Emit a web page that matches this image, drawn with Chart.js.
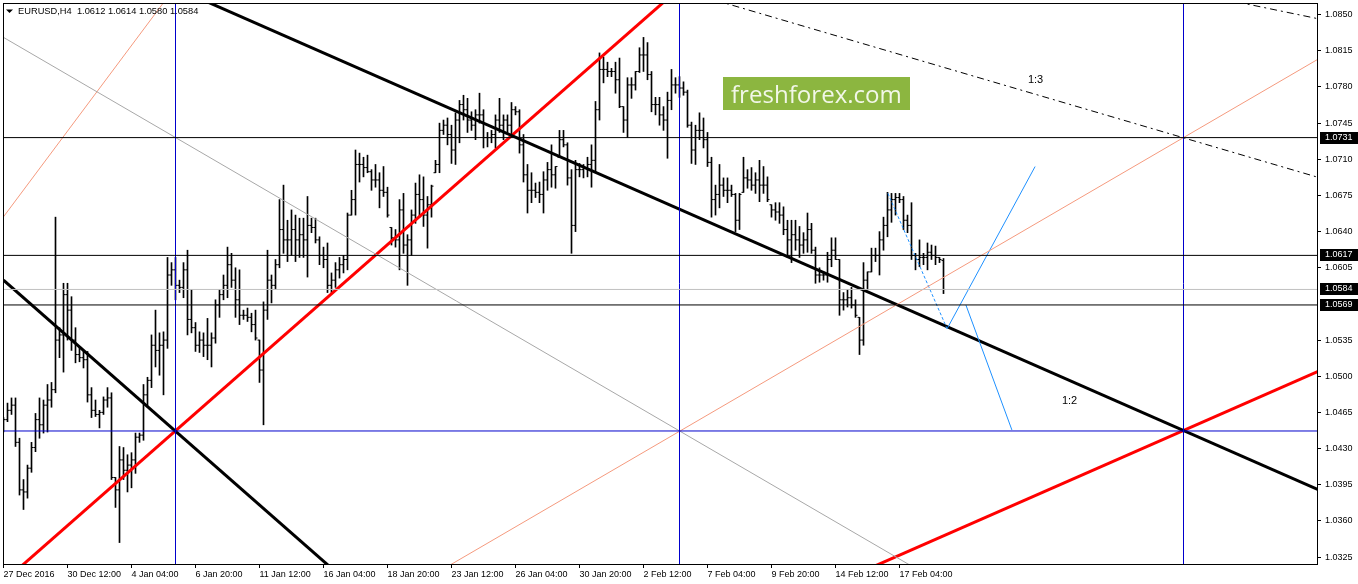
<!DOCTYPE html>
<html><head><meta charset="utf-8">
<script src="https://cdn.jsdelivr.net/npm/chart.js@4.4.1/dist/chart.umd.min.js"></script>
<style>html,body{margin:0;padding:0;background:#fff;overflow:hidden}</style>
</head><body>
<canvas id="c" width="1358" height="584"></canvas>
<script>
// ---------- DATA ----------
const xTickLabels = ["27 Dec 2016","30 Dec 12:00","4 Jan 04:00","6 Jan 20:00","11 Jan 12:00","16 Jan 04:00","18 Jan 20:00","23 Jan 12:00","26 Jan 04:00","30 Jan 20:00","2 Feb 12:00","7 Feb 04:00","9 Feb 20:00","14 Feb 12:00","17 Feb 04:00"];
const yTickValues = [1.0325,1.0360,1.0395,1.0430,1.0465,1.0500,1.0535,1.0605,1.0640,1.0675,1.0710,1.0745,1.0780,1.0815,1.0850];

const opens = [1.0453,1.0458,1.0467,1.0472,1.0436,1.0390,1.0388,1.0411,1.0431,1.0458,1.0453,1.0472,1.0477,1.0487,1.0535,1.0540,1.0579,1.0564,1.0535,1.0521,1.0518,1.0516,1.0482,1.0467,1.0463,1.0465,1.0477,1.0479,1.0402,1.0390,
1.0419,1.0409,1.0414,1.0419,1.0441,1.0443,1.0482,1.0496,1.0530,1.0525,1.0530,1.0535,1.0598,1.0603,1.0588,1.0586,1.0603,1.0555,1.0547,1.0530,1.0535,1.0530,1.0530,1.0537,1.0569,1.0579,1.0588,1.0608,1.0593,1.0574,
1.0559,1.0559,1.0557,1.0550,1.0535,1.0506,1.0564,1.0593,1.0588,1.0608,1.0642,1.0632,1.0632,1.0642,1.0632,1.0637,1.0632,1.0646,1.0644,1.0632,1.0617,1.0613,1.0588,1.0593,1.0603,1.0608,1.0613,1.0656,1.0671,1.0705,
1.0705,1.0702,1.0698,1.0690,1.0690,1.0680,1.0678,1.0644,1.0634,1.0632,1.0661,1.0627,1.0632,1.0656,1.0676,1.0671,1.0656,1.0666,1.0697,1.0705,1.0738,1.0743,1.0734,1.0719,1.0748,1.0763,1.0758,1.0748,1.0743,1.0753,
1.0753,1.0731,1.0731,1.0734,1.0748,1.0743,1.0748,1.0743,1.0758,1.0756,1.0724,1.0695,1.0680,1.0680,1.0678,1.0676,1.0690,1.0700,1.0695,1.0712,1.0729,1.0724,1.0692,1.0646,1.0700,1.0700,1.0702,1.0705,1.0709,1.0758,
1.0797,1.0797,1.0795,1.0795,1.0787,1.0761,1.0748,1.0782,1.0782,1.0795,1.0811,1.0811,1.0792,1.0763,1.0763,1.0753,1.0748,1.0767,1.0782,1.0782,1.0779,1.0775,1.0743,1.0719,1.0738,1.0738,1.0729,1.0707,1.0671,1.0676,
1.0685,1.0680,1.0680,1.0676,1.0651,1.0678,1.0692,1.0690,1.0685,1.0690,1.0685,1.0685,1.0666,1.0661,1.0659,1.0656,1.0642,1.0632,1.0637,1.0632,1.0627,1.0632,1.0642,1.0622,1.0598,1.0598,1.0598,1.0613,1.0622,1.0613,
1.0574,1.0574,1.0576,1.0569,1.0557,1.0535,1.0593,1.0601,1.0617,1.0617,1.0632,1.0646,1.0661,1.0671,1.0673,1.0671,1.0651,1.0646,1.0617,1.0613,1.0615,1.0615,1.0620,1.0617,1.0615,1.0612];
const highs = [1.0460,1.0474,1.0479,1.0479,1.0440,1.0400,1.0414,1.0436,1.0464,1.0479,1.0477,1.0492,1.0494,1.0654,1.0547,1.0590,1.0590,1.0577,1.0547,1.0528,1.0524,1.0524,1.0489,1.0477,1.0467,1.0480,1.0489,1.0484,1.0402,1.0432,
1.0431,1.0424,1.0426,1.0445,1.0445,1.0492,1.0499,1.0540,1.0564,1.0542,1.0543,1.0615,1.0610,1.0615,1.0593,1.0610,1.0622,1.0584,1.0552,1.0543,1.0542,1.0556,1.0542,1.0574,1.0584,1.0598,1.0625,1.0619,1.0605,1.0603,
1.0564,1.0566,1.0561,1.0564,1.0535,1.0572,1.0622,1.0598,1.0613,1.0671,1.0685,1.0651,1.0661,1.0656,1.0653,1.0653,1.0674,1.0653,1.0653,1.0635,1.0625,1.0629,1.0600,1.0610,1.0615,1.0617,1.0658,1.0680,1.0719,1.0716,
1.0712,1.0714,1.0700,1.0705,1.0697,1.0703,1.0683,1.0644,1.0642,1.0671,1.0677,1.0637,1.0661,1.0687,1.0695,1.0693,1.0674,1.0685,1.0709,1.0745,1.0748,1.0750,1.0743,1.0755,1.0767,1.0772,1.0769,1.0756,1.0758,1.0774,
1.0758,1.0736,1.0738,1.0753,1.0769,1.0753,1.0753,1.0765,1.0761,1.0758,1.0734,1.0705,1.0697,1.0687,1.0688,1.0698,1.0707,1.0724,1.0703,1.0738,1.0738,1.0726,1.0700,1.0709,1.0706,1.0705,1.0712,1.0724,1.0766,1.0813,
1.0809,1.0804,1.0798,1.0804,1.0808,1.0761,1.0789,1.0789,1.0795,1.0818,1.0828,1.0823,1.0795,1.0770,1.0770,1.0761,1.0775,1.0797,1.0789,1.0790,1.0785,1.0777,1.0746,1.0743,1.0755,1.0750,1.0736,1.0712,1.0685,1.0705,
1.0692,1.0692,1.0685,1.0677,1.0677,1.0712,1.0700,1.0702,1.0697,1.0709,1.0703,1.0693,1.0666,1.0668,1.0668,1.0664,1.0651,1.0651,1.0651,1.0645,1.0639,1.0658,1.0648,1.0625,1.0605,1.0601,1.0620,1.0634,1.0634,1.0613,
1.0581,1.0584,1.0586,1.0574,1.0557,1.0610,1.0601,1.0624,1.0624,1.0640,1.0654,1.0678,1.0677,1.0677,1.0677,1.0674,1.0656,1.0668,1.0619,1.0632,1.0619,1.0629,1.0627,1.0626,1.0615,1.0614];
const lows = [1.0446,1.0456,1.0463,1.0432,1.0385,1.0371,1.0382,1.0407,1.0427,1.0440,1.0445,1.0446,1.0470,1.0484,1.0518,1.0504,1.0535,1.0525,1.0513,1.0514,1.0508,1.0475,1.0460,1.0461,1.0450,1.0463,1.0470,1.0400,1.0373,1.0339,
1.0400,1.0388,1.0392,1.0406,1.0436,1.0438,1.0470,1.0489,1.0509,1.0501,1.0482,1.0527,1.0588,1.0574,1.0581,1.0576,1.0540,1.0542,1.0524,1.0523,1.0519,1.0516,1.0509,1.0532,1.0557,1.0574,1.0576,1.0586,1.0557,1.0550,
1.0555,1.0553,1.0543,1.0535,1.0494,1.0453,1.0555,1.0571,1.0584,1.0605,1.0619,1.0611,1.0617,1.0611,1.0615,1.0615,1.0596,1.0639,1.0629,1.0608,1.0605,1.0581,1.0581,1.0586,1.0595,1.0600,1.0603,1.0656,1.0656,1.0688,
1.0693,1.0697,1.0680,1.0683,1.0663,1.0674,1.0654,1.0627,1.0625,1.0603,1.0619,1.0588,1.0617,1.0648,1.0654,1.0645,1.0624,1.0654,1.0697,1.0697,1.0734,1.0724,1.0706,1.0705,1.0726,1.0748,1.0736,1.0738,1.0729,1.0745,
1.0721,1.0722,1.0726,1.0721,1.0736,1.0729,1.0736,1.0732,1.0753,1.0716,1.0688,1.0658,1.0668,1.0673,1.0668,1.0658,1.0680,1.0683,1.0682,1.0712,1.0722,1.0685,1.0619,1.0640,1.0693,1.0692,1.0693,1.0683,1.0698,1.0748,
1.0784,1.0790,1.0790,1.0774,1.0760,1.0736,1.0731,1.0769,1.0777,1.0794,1.0795,1.0787,1.0756,1.0753,1.0743,1.0738,1.0711,1.0758,1.0774,1.0770,1.0772,1.0741,1.0706,1.0705,1.0729,1.0721,1.0703,1.0654,1.0656,1.0663,
1.0674,1.0668,1.0674,1.0640,1.0642,1.0678,1.0682,1.0680,1.0677,1.0669,1.0677,1.0669,1.0654,1.0651,1.0648,1.0637,1.0615,1.0610,1.0622,1.0615,1.0619,1.0620,1.0619,1.0590,1.0591,1.0593,1.0591,1.0606,1.0613,1.0559,
1.0564,1.0567,1.0566,1.0557,1.0521,1.0530,1.0584,1.0601,1.0611,1.0598,1.0622,1.0635,1.0649,1.0656,1.0668,1.0642,1.0639,1.0613,1.0603,1.0606,1.0608,1.0603,1.0613,1.0608,1.0610,1.0580];
const closes = [1.0458,1.0467,1.0472,1.0436,1.0390,1.0388,1.0411,1.0431,1.0458,1.0453,1.0472,1.0477,1.0487,1.0535,1.0540,1.0579,1.0564,1.0535,1.0521,1.0518,1.0516,1.0482,1.0467,1.0463,1.0465,1.0477,1.0479,1.0402,1.0390,1.0419,
1.0409,1.0414,1.0419,1.0441,1.0443,1.0482,1.0496,1.0530,1.0525,1.0530,1.0535,1.0598,1.0603,1.0588,1.0586,1.0603,1.0555,1.0547,1.0530,1.0535,1.0530,1.0530,1.0537,1.0569,1.0579,1.0588,1.0608,1.0593,1.0574,1.0559,
1.0559,1.0557,1.0550,1.0537,1.0506,1.0564,1.0593,1.0588,1.0608,1.0642,1.0632,1.0632,1.0642,1.0632,1.0637,1.0632,1.0646,1.0644,1.0632,1.0617,1.0613,1.0588,1.0593,1.0603,1.0608,1.0613,1.0656,1.0671,1.0705,1.0705,
1.0702,1.0698,1.0690,1.0690,1.0680,1.0678,1.0656,1.0634,1.0632,1.0661,1.0627,1.0632,1.0656,1.0676,1.0671,1.0656,1.0666,1.0684,1.0705,1.0738,1.0743,1.0734,1.0719,1.0748,1.0763,1.0758,1.0748,1.0743,1.0753,1.0753,
1.0731,1.0731,1.0734,1.0748,1.0743,1.0748,1.0743,1.0758,1.0756,1.0724,1.0695,1.0680,1.0680,1.0678,1.0676,1.0690,1.0700,1.0695,1.0703,1.0729,1.0724,1.0692,1.0646,1.0700,1.0700,1.0702,1.0705,1.0709,1.0758,1.0797,
1.0797,1.0795,1.0795,1.0787,1.0761,1.0748,1.0782,1.0782,1.0795,1.0811,1.0811,1.0792,1.0763,1.0763,1.0753,1.0748,1.0767,1.0782,1.0782,1.0779,1.0775,1.0743,1.0719,1.0738,1.0738,1.0729,1.0707,1.0671,1.0676,1.0685,
1.0680,1.0680,1.0676,1.0651,1.0676,1.0692,1.0690,1.0685,1.0690,1.0685,1.0685,1.0671,1.0661,1.0659,1.0656,1.0642,1.0632,1.0637,1.0632,1.0627,1.0632,1.0642,1.0622,1.0598,1.0598,1.0598,1.0613,1.0622,1.0613,1.0574,
1.0574,1.0576,1.0569,1.0559,1.0535,1.0593,1.0601,1.0617,1.0617,1.0632,1.0646,1.0661,1.0671,1.0673,1.0671,1.0651,1.0646,1.0617,1.0613,1.0615,1.0615,1.0620,1.0617,1.0615,1.0613,1.0584];

// price levels
const blackLevels = [1.0731, 1.0617, 1.0569];
const bidLevel = [1.0584];
const blueLevel = [1.0447];
const boxedLevels = [1.0731, 1.0617, 1.0584, 1.0569];
const blueVerticals = [43, 169, 295];

// trend lines: [barIndex, price] end points
const redFan1x1 = [[0, 1.0301], [170, 1.0879]];
const blackFan1x1 = [[0, 1.0593], [90, 1.0287]];
const blackFan1x2 = [[40, 1.0881], [330, 1.0388]];
const redFan1x2 = [[210, 1.0303], [330, 1.0507]];
const grayDiagonal = [[0, 1.0828], [240, 1.0287]];
const salmonDiagonal = [[100, 1.0291], [330, 1.0810]];
const salmonSteep = [[-2, 1.0644], [42, 1.0872]];
const dashFan1x3 = [[170, 1.0873], [330, 1.0691]];
const dashFanTop = [[300, 1.0869], [330, 1.0845]];
const blueDotted = [[221.1, 1.0677], [235.9, 1.0546]];
const blueUp = [[235.9, 1.0546], [257.9, 1.0703]];
const blueDown = [[240.6, 1.0569], [252.1, 1.0448]];

const fanLabels = ["1:3", "1:2"];
const fanLabelX = [256.1, 264.6];
const fanLabelY = [1.0784, 1.0473];

const titleText = "EURUSD,H4  1.0612 1.0614 1.0580 1.0584";
const watermarkText = "freshforex.com";

// ---------- CHART ----------
const FONT = '"Liberation Sans", Arial, sans-serif';
function seg(points, color, width, dash) {
  return {type: 'line', data: points.map(p => ({x: p[0], y: p[1]})), borderColor: color, borderWidth: width,
    borderDash: dash || [], pointRadius: 0, fill: false, tension: 0, clip: 0, order: 1};
}
const datasets = [];
datasets.push({type: 'bar', data: highs.map((h, i) => ({x: i, y: [lows[i], h]})), backgroundColor: '#000',
  barThickness: 1, borderWidth: 0, order: 20});
datasets.push({type: 'line', data: opens.flatMap((o, i) => [{x: i - 0.5, y: o}, {x: i, y: o}, {x: i, y: null}]),
  borderColor: '#000', borderWidth: 1, pointRadius: 0, spanGaps: false, clip: 0, order: 19});
datasets.push({type: 'line', data: closes.flatMap((c, i) => [{x: i, y: c}, {x: i + 0.5, y: c}, {x: i + 0.5, y: null}]),
  borderColor: '#000', borderWidth: 1, pointRadius: 0, spanGaps: false, clip: 0, order: 19});
blackLevels.forEach(v => datasets.push(seg([[-10, v], [340, v]], '#000', 1)));
bidLevel.forEach(v => datasets.push(seg([[-10, v], [340, v]], '#c0c0c0', 1)));
blueLevel.forEach(v => datasets.push(seg([[-10, v], [340, v]], '#0000cc', 1)));
blueVerticals.forEach(v => datasets.push(seg([[v, 1.00], [v, 1.10]], '#0000cc', 1)));
datasets.push(seg(grayDiagonal, '#a8a8a8', 1));
datasets.push(seg(salmonDiagonal, '#f59a7e', 1));
datasets.push(seg(salmonSteep, '#f59a7e', 1));
datasets.push(seg(dashFan1x3, '#000', 1, [7, 4, 2, 4]));
datasets.push(seg(dashFanTop, '#000', 1, [7, 4, 2, 4]));
datasets.push(seg(blueDotted, '#1e90ff', 1, [3, 2]));
datasets.push(seg(blueUp, '#1e90ff', 1));
datasets.push(seg(blueDown, '#1e90ff', 1));
datasets.push(seg(blackFan1x1, '#000', 3));
datasets.push(seg(blackFan1x2, '#000', 3));
datasets.push(seg(redFan1x1, '#ff0000', 3));
datasets.push(seg(redFan1x2, '#ff0000', 3));

const overlay = {
  id: 'overlay',
  afterDatasetsDraw(chart) {
    const {ctx, chartArea: a, scales: {x, y}} = chart;
    ctx.save();
    ctx.strokeStyle = '#000'; ctx.lineWidth = 1;
    ctx.strokeRect(a.left + 0.5, a.top + 0.5, a.right - a.left, a.bottom - a.top);
    ctx.fillStyle = '#000';
    ctx.font = '11px ' + FONT;
    ctx.textBaseline = 'alphabetic'; ctx.textAlign = 'left';
    fanLabels.forEach((t, k) => ctx.fillText(t, x.getPixelForValue(fanLabelX[k]), y.getPixelForValue(fanLabelY[k])));
    ctx.restore();
  },
  afterDraw(chart) {
    const {ctx, chartArea: a, scales: {y}} = chart;
    ctx.save();
    // boxed price labels
    ctx.font = '9px ' + FONT;
    ctx.textBaseline = 'middle'; ctx.textAlign = 'left';
    boxedLevels.forEach(v => {
      const py = y.getPixelForValue(v);
      ctx.fillStyle = '#000';
      ctx.fillRect(a.right + 3, Math.round(py) - 6, 38, 12);
      ctx.fillStyle = '#fff';
      ctx.fillText(v.toFixed(4), a.right + 8, Math.round(py));
    });
    // title
    ctx.fillStyle = '#000';
    ctx.beginPath(); ctx.moveTo(6, 9.5); ctx.lineTo(13, 9.5); ctx.lineTo(9.5, 13); ctx.closePath(); ctx.fill();
    ctx.font = '9.3px ' + FONT;
    ctx.textBaseline = 'alphabetic';
    ctx.fillText(titleText, 18, 14);
    // watermark
    ctx.fillStyle = '#8cb640';
    ctx.fillRect(723, 77, 187, 33);
    ctx.fillStyle = '#f2f7e8';
    let fs = 25;
    ctx.font = fs + 'px "Open Sans", sans-serif';
    const w = ctx.measureText(watermarkText).width;
    fs = fs * 171 / w;
    ctx.font = fs.toFixed(2) + 'px "Open Sans", sans-serif';
    ctx.fillText(watermarkText, 731, 103);
    ctx.restore();
  }
};

new Chart(document.getElementById('c'), {
  type: 'bar',
  data: {datasets},
  options: {
    responsive: false, animation: false, devicePixelRatio: 1, events: [],
    layout: {padding: {left: 3, top: 3, right: 0, bottom: 0}},
    plugins: {legend: {display: false}, tooltip: {enabled: false}, title: {display: false}},
    scales: {
      x: {
        type: 'linear', min: -0.125, max: 328.375, offset: false,
        grid: {drawOnChartArea: false, drawTicks: true, tickLength: 4, color: '#000', offset: false},
        border: {display: false},
        afterBuildTicks: s => { s.ticks = xTickLabels.map((_, k) => ({value: k * 16})); },
        afterFit: s => { s.height = 20; s.paddingLeft = 0; s.paddingRight = 0; },
        ticks: {autoSkip: false, maxRotation: 0, minRotation: 0, align: 'start', padding: 1, color: '#000',
          font: {family: FONT, size: 9}, callback: (v, i) => xTickLabels[i]}
      },
      y: {
        type: 'linear', position: 'right', min: 1.031825, max: 1.08613,
        grid: {drawOnChartArea: false, drawTicks: true, tickLength: 4, color: '#000'},
        border: {display: false},
        afterBuildTicks: s => { s.ticks = yTickValues.map(v => ({value: v})); },
        afterFit: s => { s.width = 41; s.paddingTop = 0; s.paddingBottom = 0; },
        ticks: {padding: 4, color: '#000', font: {family: FONT, size: 9}, callback: v => Number(v).toFixed(4)}
      }
    }
  },
  plugins: [overlay]
});
</script>
</body></html>
